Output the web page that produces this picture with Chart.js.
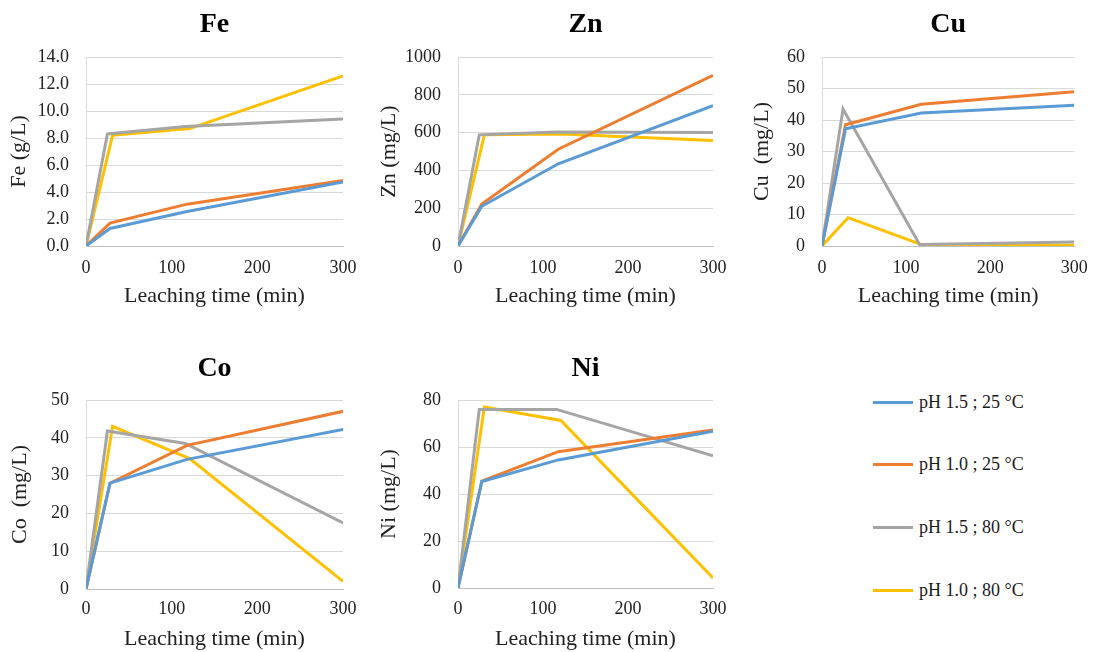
<!DOCTYPE html>
<html><head><meta charset="utf-8">
<script src="https://cdn.jsdelivr.net/npm/chart.js@4.4.1/dist/chart.umd.min.js"></script>
<style>
html,body{margin:0;padding:0;background:#fff;overflow:hidden;width:1099px;height:652px;}
canvas{position:absolute;}
#legend{position:absolute;left:0;top:0;font-family:'Liberation Serif','Times New Roman',serif;font-size:18px;color:#1a1a1a;}
.li{position:absolute;left:873px;height:24px;display:flex;align-items:center;white-space:nowrap;}
.ln{width:40px;height:3px;margin-right:6px;}
</style></head><body>
<div id="legend"></div>
<script>
// ---- data ----
const seriesLabels = ['pH 1.5 ; 25 °C', 'pH 1.0 ; 25 °C', 'pH 1.5 ; 80 °C', 'pH 1.0 ; 80 °C'];
const seriesColors = ['#5B9BD5', '#ED7D31', '#A5A5A5', '#FFC000'];
const timeBlue   = [0, 28, 118, 300];
const timeOrange = [0, 28, 118, 300];
const timeGray   = [0, 25, 116, 300];
const timeYellow = [0, 31, 121, 300];
const xTickValues = [0, 100, 200, 300];

const feBlue   = [0, 1.3, 2.55, 4.75];
const feOrange = [0, 1.7, 3.1, 4.85];
const feGray   = [0, 8.3, 8.85, 9.4];
const feYellow = [0, 8.2, 8.7, 12.6];

const znBlue   = [0, 210, 435, 742];
const znOrange = [0, 222, 512, 903];
const znGray   = [0, 588, 603, 600];
const znYellow = [0, 588, 592, 558];

const cuBlue   = [0, 37.2, 42.2, 44.7];
const cuOrange = [0, 38.5, 45, 49];
const cuGray   = [0, 43.5, 0.5, 1.3];
const cuYellow = [0, 9, 0.2, 0.2];

const coBlue   = [0, 28, 34.3, 42.2];
const coOrange = [0, 28, 38, 47];
const coGray   = [0, 41.8, 38.5, 17.5];
const coYellow = [0, 43, 34.5, 2];

const niBlue   = [0, 45.3, 54.5, 66.7];
const niOrange = [0, 45.5, 58, 67.2];
const niGray   = [0, 76, 76, 56.3];
const niYellow = [0, 77, 71.3, 4.3];

const xTitle = 'Leaching time (min)';
const FONT = "'Liberation Serif','Times New Roman',serif";
const times = [timeBlue, timeOrange, timeGray, timeYellow];

function pts(t, v) { return t.map((x, i) => ({x: x, y: v[i]})); }

function build(g, title, yTitle, yMax, yStep, yDec, vals) {
  const cv = document.createElement('canvas');
  cv.width = g.cw; cv.height = g.ch;
  cv.style.left = g.cl + 'px'; cv.style.top = g.ct + 'px';
  cv.style.width = g.cw + 'px'; cv.style.height = g.ch + 'px';
  document.body.appendChild(cv);
  const tSize = 28, tLH = tSize * 1.2;
  const tTop = g.tc - g.ct - tLH / 2;
  const tBot = g.pt - g.ct - tLH - tTop;
  const yW = g.pl - g.cl;
  const xH = g.ct + g.ch - g.pb;
  const padR = g.cl + g.cw - g.pr;
  const axLH = 22 * 1.2;
  const yTitlePad = g.ytc - g.cl - axLH / 2;
  const xTitlePad = (g.ct + g.ch - g.xtc) - axLH / 2;
  const tickLH = 18 * 1.2;
  const xTickPad = g.xlc - g.pb - tickLH / 2;
  new Chart(cv, {
    type: 'scatter',
    data: {
      datasets: vals.map((v, i) => ({
        label: seriesLabels[i],
        data: pts(times[i], v),
        showLine: true,
        borderColor: seriesColors[i],
        backgroundColor: seriesColors[i],
        borderWidth: 3,
        pointRadius: 0,
        pointHoverRadius: 0,
        tension: 0
      }))
    },
    options: {
      responsive: false,
      animation: false,
      events: [],
      layout: {padding: {left: 0, top: 0, bottom: 0, right: padR}},
      plugins: {
        legend: {display: false},
        tooltip: {enabled: false},
        title: {
          display: true, text: title, fullSize: false, color: '#000',
          font: {family: FONT, size: tSize, weight: 'bold', lineHeight: 1.2},
          padding: {top: tTop, bottom: tBot}
        }
      },
      scales: {
        x: {
          type: 'linear', min: 0, max: 300,
          afterBuildTicks: s => { s.ticks = xTickValues.map(v => ({value: v})); },
          grid: {display: false, drawTicks: false},
          border: {display: true, color: '#bfbfbf', width: 1},
          ticks: {padding: xTickPad, color: '#222', font: {family: FONT, size: 18, lineHeight: 1.2}, maxRotation: 0},
          title: {display: true, text: xTitle, color: '#222', font: {family: FONT, size: 22, lineHeight: 1.2}, padding: {top: xTitlePad, bottom: xTitlePad}},
          afterFit: s => { s.height = xH; }
        },
        y: {
          min: 0, max: yMax,
          grid: {color: '#d9d9d9', lineWidth: 1, drawTicks: false},
          border: {display: true, color: '#d9d9d9', width: 1},
          ticks: {stepSize: yStep, padding: 17, color: '#222', font: {family: FONT, size: 18, lineHeight: 1.2}, callback: v => v.toFixed(yDec)},
          title: {display: true, text: yTitle, color: '#222', font: {family: FONT, size: 22, lineHeight: 1.2}, padding: {top: yTitlePad, bottom: yTitlePad}},
          afterFit: s => { s.width = yW; }
        }
      }
    }
  });
}

build({cl: 0, ct: 0, cw: 370, ch: 320, pl: 86, pr: 343, pt: 57, pb: 246, tc: 25, ytc: 19, xtc: 296, xlc: 268},
      'Fe', 'Fe (g/L)', 14, 2, 1, [feBlue, feOrange, feGray, feYellow]);
build({cl: 372, ct: 0, cw: 366, ch: 320, pl: 458, pr: 713, pt: 57, pb: 246, tc: 25, ytc: 389, xtc: 296, xlc: 268},
      'Zn', 'Zn (mg/L)', 1000, 200, 0, [znBlue, znOrange, znGray, znYellow]);
build({cl: 742, ct: 0, cw: 357, ch: 320, pl: 822, pr: 1083, pt: 57, pb: 246, tc: 25, ytc: 762, xtc: 296, xlc: 268},
      'Cu', 'Cu  (mg/L)', 60, 10, 0, [cuBlue, cuOrange, cuGray, cuYellow]);
build({cl: 0, ct: 335, cw: 370, ch: 335, pl: 86, pr: 343, pt: 400, pb: 589, tc: 369, ytc: 20, xtc: 639, xlc: 609},
      'Co', 'Co  (mg/L)', 50, 10, 0, [coBlue, coOrange, coGray, coYellow]);
build({cl: 372, ct: 335, cw: 366, ch: 335, pl: 458, pr: 713, pt: 400, pb: 588, tc: 369, ytc: 389, xtc: 639, xlc: 609},
      'Ni', 'Ni (mg/L)', 80, 20, 0, [niBlue, niOrange, niGray, niYellow]);

// legend
const legendY = [402, 464, 527, 590];
const lg = document.getElementById('legend');
seriesLabels.forEach((lab, i) => {
  const d = document.createElement('div');
  d.className = 'li';
  d.style.top = (legendY[i] - 12) + 'px';
  const l = document.createElement('span');
  l.className = 'ln';
  l.style.background = seriesColors[i];
  const t = document.createElement('span');
  t.textContent = lab;
  d.appendChild(l); d.appendChild(t);
  lg.appendChild(d);
});
</script>
</body></html>
